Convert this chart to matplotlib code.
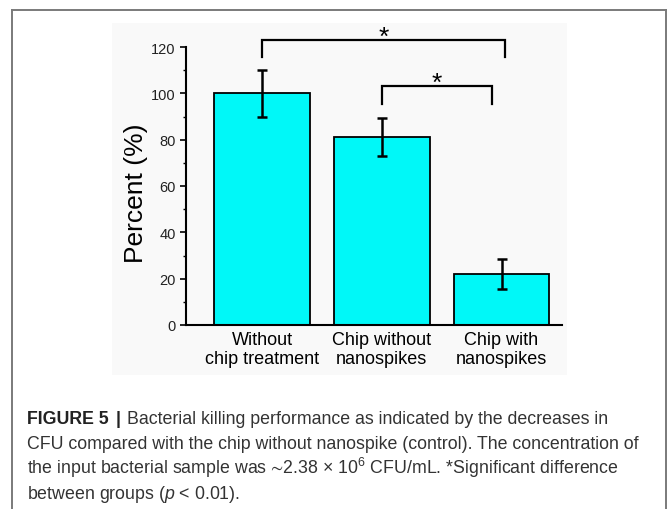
import matplotlib
matplotlib.use("Agg")
import matplotlib.pyplot as plt
from matplotlib.lines import Line2D
from matplotlib.patches import Rectangle
from matplotlib.ticker import MultipleLocator

plt.rcParams["font.family"] = ["Liberation Sans", "DejaVu Sans"]
plt.rcParams["mathtext.fontset"] = "custom"
plt.rcParams["mathtext.rm"] = "Liberation Sans"
plt.rcParams["mathtext.it"] = "Liberation Sans:italic"
plt.rcParams["mathtext.fallback"] = "stixsans"

# data
groups = ["Without\nchip treatment", "Chip without\nnanospikes", "Chip with\nnanospikes"]
percent = [100, 81, 22]
err = [10, 8.2, 6.6]

# significance brackets: (x_start, x_end, y_bar, y_leg_bottom)
brackets = [(0.0, 2.03, 123.0, 115.5), (1.0, 1.92, 103.3, 95.4)]

caption_lines = [
    "Bacterial killing performance as indicated by the decreases in",
    "CFU compared with the chip without nanospike (control). The concentration of",
    "the input bacterial sample was $\u223c$2.38 \u00d7 10$^{6}$ CFU/mL. *Significant difference",
    "between groups ($\\mathit{p}$ < 0.01).",
]

W, H = 668, 510
fig = plt.figure(figsize=(W / 100, H / 100), dpi=100)
fig.patch.set_facecolor("white")

# outer frame (top, left, right)
frame_kw = dict(color="#7a7a7a", lw=1.4, transform=fig.transFigure)
fig.add_artist(Line2D([12 / W, 666 / W], [1 - 11 / H, 1 - 11 / H], **frame_kw))
fig.add_artist(Line2D([12 / W, 12 / W], [0, 1 - 11 / H], **frame_kw))
fig.add_artist(Line2D([666 / W, 666 / W], [0, 1 - 11 / H], **frame_kw))

# faint background of the embedded image
fig.add_artist(Rectangle((112 / W, 1 - 376 / H), 455 / W, 352 / H,
                         transform=fig.transFigure, facecolor="#f9f9f9",
                         edgecolor="none", zorder=0))

ax = fig.add_axes([186 / W, 1 - 326 / H, 376 / W, 278 / H])
ax.set_facecolor("none")

x = range(len(groups))
ax.bar(x, percent, width=0.80, color="#00f8f8", edgecolor="black", linewidth=1.3, zorder=2)
ax.errorbar(x, percent, yerr=err, fmt="none", ecolor="black", elinewidth=1.8,
            capsize=3.5, capthick=1.8, zorder=3)

ax.set_xlim(-0.635, 2.505)
ax.set_ylim(0, 120)
ax.yaxis.set_major_locator(MultipleLocator(20))
ax.yaxis.set_minor_locator(MultipleLocator(10))
ax.tick_params(axis="y", which="major", direction="out", length=4, width=1.2,
               labelsize=10.5, colors="black", labelcolor="#222222")
ax.tick_params(axis="y", which="minor", direction="out", length=2.5, width=1.0)
ax.set_xticks(list(x))
ax.set_xticklabels(groups, fontsize=13, linespacing=1.2)
ax.tick_params(axis="x", length=0, pad=4)

for s in ("top", "right"):
    ax.spines[s].set_visible(False)
for s in ("left", "bottom"):
    ax.spines[s].set_linewidth(1.5)

ax.set_ylabel("Percent (%)", fontsize=19)
ax.yaxis.set_label_coords(-0.101, 0.477)

for x0, x1, yb, yl in brackets:
    ax.plot([x0, x0, x1, x1], [yl, yb, yb, yl], color="black", lw=1.6,
            clip_on=False, solid_joinstyle="miter")
    ax.text((x0 + x1) / 2, yb - 4.0, "*", ha="center", va="bottom",
            fontsize=19, clip_on=False)

# caption
cap_font = 12.8
baselines = [424, 449.5, 474.5, 499.5]
fig.text(27 / W, 1 - baselines[0] / H, "FIGURE 5", fontsize=cap_font, fontweight="bold",
         color="#222222", va="baseline", ha="left")
fig.text(116 / W, 1 - baselines[0] / H, "|", fontsize=cap_font, fontweight="bold",
         color="#222222", va="baseline", ha="left")
fig.text(127 / W, 1 - baselines[0] / H, caption_lines[0], fontsize=cap_font,
         color="#333333", va="baseline", ha="left")
for line, yb in zip(caption_lines[1:], baselines[1:]):
    fig.text(27 / W, 1 - yb / H, line, fontsize=cap_font,
             color="#333333", va="baseline", ha="left")

fig.savefig("out.png", dpi=100, facecolor="white")
